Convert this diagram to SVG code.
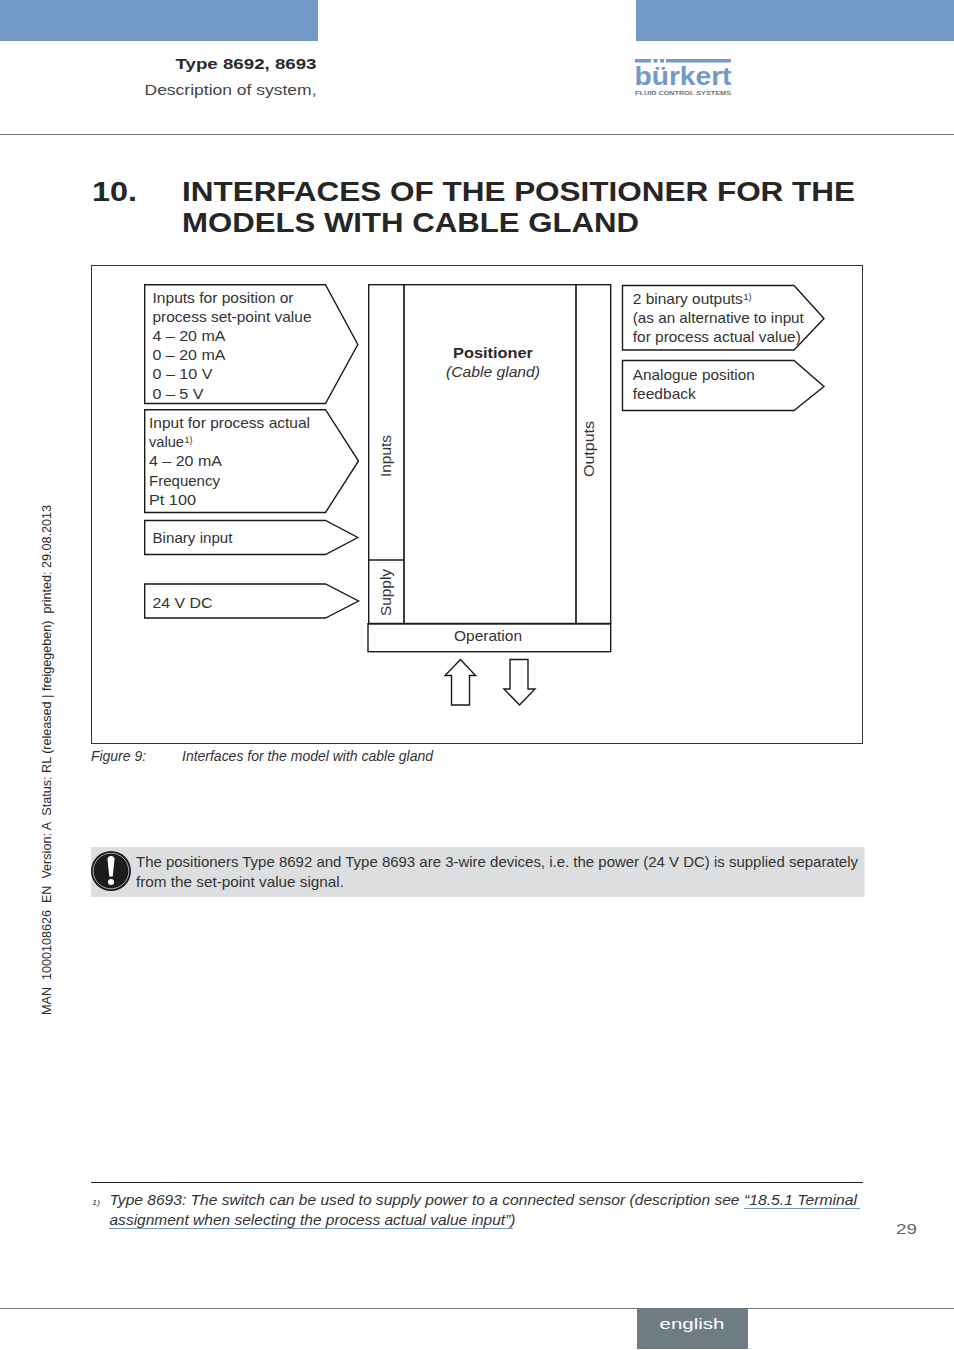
<svg xmlns="http://www.w3.org/2000/svg" width="954" height="1350" viewBox="0 0 954 1350">
<style>
text{font-family:"Liberation Sans",Arial,sans-serif;fill:#2a2a2a;font-size:15px}
.b{font-weight:bold}.i{font-style:italic}
.box{fill:#fff;stroke:#1a1a1a;stroke-width:1.4}
.div{fill:none;stroke:#1a1a1a;stroke-width:1.700}
.lbl{fill:#333}
.sup{font-size:8.500px}
.h{font-size:27.500px;font-weight:bold;fill:#262626}
.rule{stroke:#6d7a80;stroke-width:1}
.link{stroke:#6f97c4;stroke-width:1}
</style>
<rect width="954" height="1350" fill="#fff"/>
<g id="header">
<rect x="0" y="0" width="318" height="41" fill="#7399c6"/>
<rect x="636" y="0" width="318" height="41" fill="#7399c6"/>
<text x="316.500" y="69" text-anchor="end" class="b" textLength="141" lengthAdjust="spacingAndGlyphs">Type 8692, 8693</text>
<text x="316.500" y="95" text-anchor="end" textLength="172" lengthAdjust="spacingAndGlyphs" style="fill:#444">Description of system,</text>
<line x1="0" y1="134.500" x2="954" y2="134.500" class="rule"/>
</g>
<g id="logo">
<rect x="635" y="59" width="16" height="3.500" fill="#7399c6"/>
<rect x="653.500" y="59" width="4" height="3.500" fill="#7399c6"/>
<rect x="660" y="59" width="4" height="3.500" fill="#7399c6"/>
<rect x="666" y="59" width="65" height="3.500" fill="#7399c6"/>
<text x="634.500" y="85" class="b" style="font-size:26px;fill:#7399c6" textLength="97" lengthAdjust="spacingAndGlyphs">bürkert</text>
<text x="635" y="94.500" class="b" style="font-size:5.500px;fill:#6b7478" textLength="96" lengthAdjust="spacingAndGlyphs">FLUID CONTROL SYSTEMS</text>
</g>
<g id="heading">
<text x="92" y="201" class="h" textLength="45" lengthAdjust="spacingAndGlyphs">10.</text>
<text x="182" y="201" class="h" textLength="673" lengthAdjust="spacingAndGlyphs">INTERFACES OF THE POSITIONER FOR THE</text>
<text x="182" y="232" class="h" textLength="457" lengthAdjust="spacingAndGlyphs">MODELS WITH CABLE GLAND</text>
</g>
<rect id="frame" x="91.500" y="265.500" width="771" height="478" fill="#fff" stroke="#333" stroke-width="1"/>
<g id="input-position">
<path class="box" d="M144.700 284.700H325.500L357.800 344.500L325.500 403.500H144.700Z"/>
<text x="152.500" y="303" class="lbl" textLength="141" lengthAdjust="spacingAndGlyphs">Inputs for position or</text>
<text x="152.500" y="322" class="lbl" textLength="159" lengthAdjust="spacingAndGlyphs">process set-point value</text>
<text x="152.500" y="341" class="lbl" textLength="73" lengthAdjust="spacingAndGlyphs">4 – 20 mA</text>
<text x="152.500" y="360" class="lbl" textLength="73" lengthAdjust="spacingAndGlyphs">0 – 20 mA</text>
<text x="152.500" y="379" class="lbl" textLength="60" lengthAdjust="spacingAndGlyphs">0 – 10 V</text>
<text x="152.500" y="398.500" class="lbl" textLength="51" lengthAdjust="spacingAndGlyphs">0 – 5 V</text>
</g>
<g id="input-actual">
<path class="box" d="M144.700 409.700H325.500L358.500 461L325.500 512.500H144.700Z"/>
<text x="149" y="428" class="lbl" textLength="161" lengthAdjust="spacingAndGlyphs">Input for process actual</text>
<text x="149" y="447" class="lbl" textLength="35" lengthAdjust="spacingAndGlyphs">value</text>
<text x="184.500" y="442.500" class="lbl sup" textLength="8" lengthAdjust="spacingAndGlyphs">1)</text>
<text x="149" y="466" class="lbl" textLength="73" lengthAdjust="spacingAndGlyphs">4 – 20 mA</text>
<text x="149" y="486" class="lbl" textLength="71" lengthAdjust="spacingAndGlyphs">Frequency</text>
<text x="149" y="505" class="lbl" textLength="47" lengthAdjust="spacingAndGlyphs">Pt 100</text>
</g>
<g id="binary-input">
<path class="box" d="M144.700 520.500H325.500L357.800 537.500L325.500 554.500H144.700Z"/>
<text x="152.500" y="543" class="lbl" textLength="80" lengthAdjust="spacingAndGlyphs">Binary input</text>
</g>
<g id="supply-24v">
<path class="box" d="M144.700 584H325.500L358.500 601L325.500 618H144.700Z"/>
<text x="152.500" y="608" class="lbl" textLength="60" lengthAdjust="spacingAndGlyphs">24 V DC</text>
</g>
<g id="positioner">
<rect class="box" x="368.700" y="284.700" width="242" height="339"/>
<line x1="404" y1="284.700" x2="404" y2="623.700" class="div"/>
<line x1="576" y1="284.700" x2="576" y2="623.700" class="div"/>
<line x1="368.700" y1="560" x2="404" y2="560" class="div"/>
<text x="493" y="358" text-anchor="middle" class="b" textLength="80" lengthAdjust="spacingAndGlyphs">Positioner</text>
<text x="493" y="377" text-anchor="middle" class="i lbl" textLength="94" lengthAdjust="spacingAndGlyphs">(Cable gland)</text>
<text transform="translate(390.500 477) rotate(-90)" class="lbl" textLength="42" lengthAdjust="spacingAndGlyphs">Inputs</text>
<text transform="translate(390.500 616) rotate(-90)" class="lbl" textLength="47" lengthAdjust="spacingAndGlyphs">Supply</text>
<text transform="translate(594 477) rotate(-90)" class="lbl" textLength="56" lengthAdjust="spacingAndGlyphs">Outputs</text>
</g>
<g id="operation">
<rect class="box" x="368" y="623.700" width="242.700" height="28"/>
<line x1="368" y1="623.700" x2="610.700" y2="623.700" class="div"/>
<text x="488" y="641" text-anchor="middle" class="lbl" textLength="68" lengthAdjust="spacingAndGlyphs">Operation</text>
</g>
<g id="binary-outputs">
<path class="box" d="M622.500 285.500H794L824 318.500L794 350H622.500Z"/>
<text x="632.800" y="304" class="lbl" textLength="110" lengthAdjust="spacingAndGlyphs">2 binary outputs</text>
<text x="743.500" y="299.500" class="lbl sup" textLength="8" lengthAdjust="spacingAndGlyphs">1)</text>
<text x="632.800" y="323" class="lbl" textLength="171" lengthAdjust="spacingAndGlyphs">(as an alternative to input</text>
<text x="632.800" y="342" class="lbl" textLength="168" lengthAdjust="spacingAndGlyphs">for process actual value)</text>
</g>
<g id="analogue-feedback">
<path class="box" d="M622.500 360.500H794L824 386.500L794 410.500H622.500Z"/>
<text x="632.800" y="380" class="lbl" textLength="122" lengthAdjust="spacingAndGlyphs">Analogue position</text>
<text x="632.800" y="399" class="lbl" textLength="63" lengthAdjust="spacingAndGlyphs">feedback</text>
</g>
<g id="connectors" fill="#fff" stroke="#1a1a1a" stroke-width="1.400">
<path d="M460.500 659.500L475.500 675.500H469.500V705H451.500V675.500H445Z"/>
<path d="M510 659.500H528V689H535L519.500 705L504 689H510Z"/>
</g>
<text id="caption-num" x="91" y="761" class="i lbl" style="font-size:14px" textLength="55" lengthAdjust="spacingAndGlyphs">Figure 9:</text>
<text id="caption" x="182" y="761" class="i lbl" style="font-size:14px" textLength="251" lengthAdjust="spacingAndGlyphs">Interfaces for the model with cable gland</text>
<g id="note">
<rect x="91" y="847" width="773.500" height="50" fill="#dcdee0"/>
<circle cx="111" cy="871" r="20" fill="#1c1c1c"/>
<circle cx="111" cy="871" r="17.800" fill="none" stroke="#dcdee0" stroke-width="0.700"/>
<path d="M107.500 859.500Q107.500 856 111 856Q114.500 856 114.500 859.500L112.700 876.500H109.300Z" fill="#fff"/>
<circle cx="111" cy="882" r="3" fill="#fff"/>
<text x="136" y="867" class="lbl" textLength="722" lengthAdjust="spacingAndGlyphs">The positioners Type 8692 and Type 8693 are 3-wire devices, i.e. the power (24 V DC) is supplied separately</text>
<text x="136" y="887" class="lbl" textLength="208" lengthAdjust="spacingAndGlyphs">from the set-point value signal.</text>
</g>
<g id="footnote">
<line x1="91" y1="1182.500" x2="863" y2="1182.500" stroke="#222" stroke-width="1"/>
<text x="92" y="1205" class="i lbl" style="font-size:8px" textLength="8" lengthAdjust="spacingAndGlyphs">1)</text>
<text x="109.500" y="1205" class="i lbl" textLength="630" lengthAdjust="spacingAndGlyphs">Type 8693: The switch can be used to supply power to a connected sensor (description see</text>
<text x="744" y="1205" class="i lbl" textLength="113" lengthAdjust="spacingAndGlyphs">“18.5.1 Terminal</text>
<text x="109.500" y="1225" class="i lbl" textLength="406" lengthAdjust="spacingAndGlyphs">assignment when selecting the process actual value input”)</text>
<line x1="744" y1="1208.500" x2="860" y2="1208.500" class="link"/>
<line x1="109" y1="1228.500" x2="513" y2="1228.500" class="link"/>
</g>
<text id="page" x="917" y="1234" text-anchor="end" textLength="21" lengthAdjust="spacingAndGlyphs" style="fill:#666">29</text>
<text id="margin" transform="translate(51 1015) rotate(-90)" style="font-size:12px" xml:space="preserve" textLength="510" lengthAdjust="spacingAndGlyphs">MAN  1000108626  EN  Version: A  Status: RL (released | freigegeben)  printed: 29.08.2013</text>
<g id="footer">
<line x1="0" y1="1308.500" x2="954" y2="1308.500" class="rule"/>
<rect x="637" y="1309" width="111" height="40" fill="#6f7c83"/>
<text x="692" y="1329" text-anchor="middle" style="font-size:15.500px;fill:#fff" textLength="65" lengthAdjust="spacingAndGlyphs">english</text>
</g>
</svg>
